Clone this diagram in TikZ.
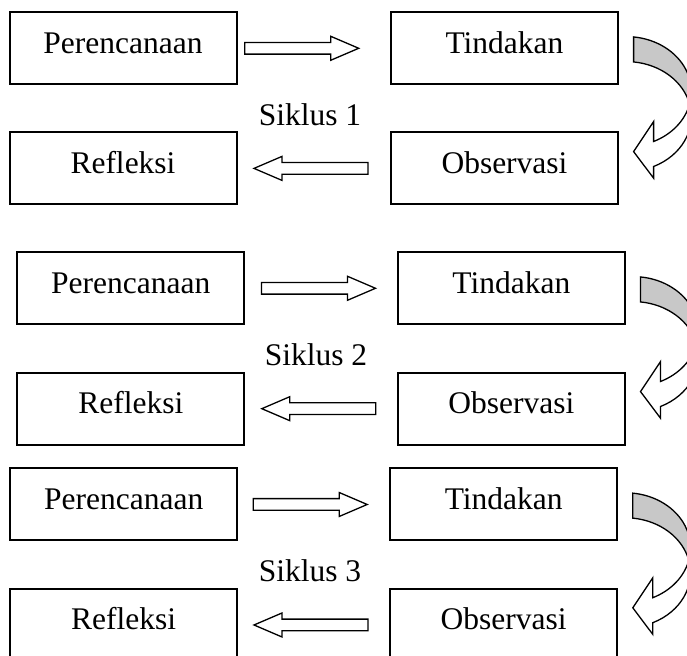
\documentclass[tikz,border=0pt]{standalone}
\usepackage{fontspec}
\setmainfont{Liberation Serif}
\usetikzlibrary{calc}

\definecolor{bandgray}{RGB}{200,200,200}

\begin{document}
\begin{tikzpicture}[x=0.5pt, y=0.5pt,
	box/.style={rectangle, draw=black, line width=1pt,
		minimum width=113.5pt, minimum height=36pt,
		text height=10pt, text depth=5pt,
		font=\fontsize{15.75}{19}\selectfont},
	cyclelabel/.style={anchor=base, font=\fontsize{15.75}{19}\selectfont},
	blockarrow/.pic={
		\draw[line width=0.65pt, fill=white] (0,5.85) -- (86,5.85) -- (86,12)
			-- (114,0) -- (86,-12) -- (86,-5.85) -- (0,-5.85) -- cycle;
	},
	bendarrow/.pic={
		\draw[line width=0.65pt, fill=bandgray] (7.3,54.65)
			arc[start angle=83.55, end angle=-13.14, x radius=65, y radius=55]
			arc[start angle=13.14, end angle=83.55, x radius=65, y radius=55] -- cycle;
		\draw[line width=0.65pt, fill=white] (63.3,-12.5)
			arc[start angle=-13.14, end angle=-65.17, x radius=65, y radius=55]
			-- (27.3,-30) -- (7.3,-60) -- (27.3,-86.6) -- (27.3,-74.92)
			arc[start angle=-65.17, end angle=13.14, x radius=65, y radius=55] -- cycle;
	}]
	\useasboundingbox (0,0) rectangle (687,-656);
	\clip (0,0) rectangle (687,-656);

	\node[box] (p1) at (123,-48.3) {Perencanaan};
	\node[box] (t1) at (504.5,-48.3) {Tindakan};
	\node[box] (r1) at (123,-168.4) {Refleksi};
	\node[box] (o1) at (504.5,-168.4) {Observasi};
	\pic at ($(p1.east)+(7.2,0)$) {blockarrow};
	\pic[rotate=180] at ($(o1.west)+(-22,0)$) {blockarrow};
	\node[cyclelabel] (s1) at (310,-125.7) {Siklus 1};
	\pic at ($(t1.east)+(7.3,-43.3)$) {bendarrow};

	\node[box] (p2) at (130.8,-288.3) {Perencanaan};
	\node[box] (t2) at (511.4,-288.3) {Tindakan};
	\node[box] (r2) at (130.8,-408.7) {Refleksi};
	\node[box] (o2) at (511.4,-408.7) {Observasi};
	\pic at ($(p2.east)+(16.2,0)$) {blockarrow};
	\pic[rotate=180] at ($(o2.west)+(-21.1,0)$) {blockarrow};
	\node[cyclelabel] (s2) at (316,-365.7) {Siklus 2};
	\pic at ($(t2.east)+(7.3,-43.3)$) {bendarrow};

	\node[box] (p3) at (123.7,-504.5) {Perencanaan};
	\node[box] (t3) at (503.7,-504.5) {Tindakan};
	\node[box] (r3) at (123.7,-625) {Refleksi};
	\node[box] (o3) at (503.7,-625) {Observasi};
	\pic at ($(p3.east)+(15,0)$) {blockarrow};
	\pic[rotate=180] at ($(o3.west)+(-21.2,0)$) {blockarrow};
	\node[cyclelabel] (s3) at (310,-581.7) {Siklus 3};
	\pic at ($(t3.east)+(7.3,-43.3)$) {bendarrow};
\end{tikzpicture}
\end{document}
